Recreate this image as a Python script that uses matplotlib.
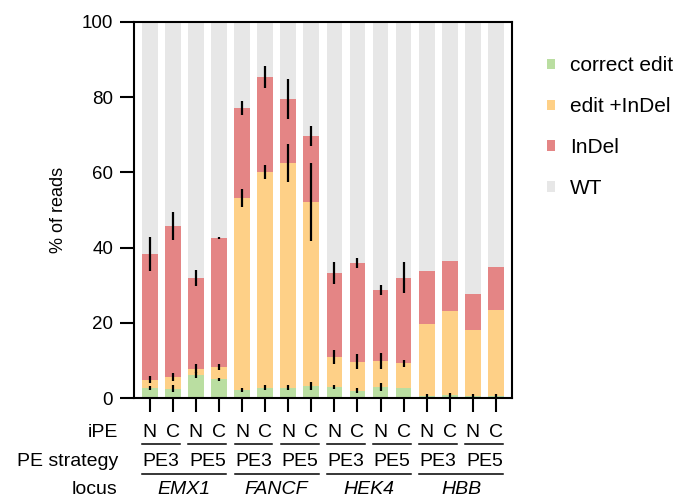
import numpy as np
import matplotlib.pyplot as plt
from matplotlib.patches import Patch
from matplotlib.transforms import blended_transform_factory

plt.rcParams['font.family'] = ['Liberation Sans', 'DejaVu Sans']

# one bar per locus / PE strategy / iPE combination
ipe = ['N', 'C'] * 8
strategy = ['PE3', 'PE5'] * 4
loci = ['EMX1', 'FANCF', 'HEK4', 'HBB']

# mean % of reads per outcome
correct_edit = [2.8, 2.5, 6.2, 5.1, 2.2, 2.8, 2.8, 3.3, 3.0, 2.0, 3.0, 2.8, 0.6, 0.8, 0.6, 0.6]
edit_indel = [2.1, 3.2, 1.6, 3.2, 51.0, 57.3, 59.7, 48.9, 8.0, 7.7, 6.9, 6.5, 19.2, 22.4, 17.6, 22.9]
indel = [33.4, 40.0, 24.1, 34.3, 23.9, 25.2, 17.0, 17.5, 22.3, 26.3, 18.9, 22.7, 14.0, 13.2, 9.6, 11.5]

# error bars (drawn at the top of each stacked segment)
correct_err = [0.5, 0.9, 0.8, 0.4, 0.5, 0.7, 0.7, 1.0, 0.5, 0.7, 1.0, 0.0, 0.5, 0.5, 0.5, 0.5]
edit_err = [0.9, 1.1, 1.2, 0.8, 2.3, 1.8, 5.0, 10.4, 1.9, 2.0, 2.2, 1.0, 0, 0, 0, 0]
indel_err = [4.6, 3.7, 2.2, 0.3, 1.8, 3.0, 5.4, 2.7, 3.0, 1.3, 1.3, 4.1, 0, 0, 0, 0]

colors = {'correct edit': '#badea1', 'edit +InDel': '#fed087',
          'InDel': '#e48585', 'WT': '#e7e7e7'}

c = np.array(correct_edit)
e = np.array(edit_indel)
d = np.array(indel)
wt = 100 - c - e - d
x = np.arange(len(c))
w = 0.68

fig = plt.figure(figsize=(6.75, 5.01), dpi=100)
ax = fig.add_axes([0.1985, 0.205, 0.5595, 0.7515])

ax.bar(x, c, w, color=colors['correct edit'])
ax.bar(x, e, w, bottom=c, color=colors['edit +InDel'])
ax.bar(x, d, w, bottom=c + e, color=colors['InDel'])
ax.bar(x, wt, w, bottom=c + e + d, color=colors['WT'])

for top, err in [(c, correct_err), (c + e, edit_err), (c + e + d, indel_err)]:
    ax.errorbar(x, top, yerr=err, fmt='none', ecolor='black', elinewidth=1.6, capsize=0)

ax.set_xlim(-0.68, 15.68)
ax.set_ylim(0, 100)
ax.set_yticks([0, 20, 40, 60, 80, 100])
ax.set_xticks(x)
ax.set_xticklabels([])
ax.tick_params(axis='both', direction='out', length=10, width=1.5, labelsize=13.5, pad=5)
for s in ax.spines.values():
    s.set_linewidth(1.5)
ax.set_ylabel('% of reads', fontsize=13, labelpad=11)

# category labels under the axis
tr = blended_transform_factory(ax.transData, fig.transFigure)
fs = 14
row_y = [0.1377, 0.0798, 0.022]
line_y = [0.1128, 0.0529]
ext = 0.32
for label, yy in zip(['iPE', 'PE strategy', 'locus'], row_y):
    ax.text(-1.38, yy, label, transform=tr, ha='right', va='center', fontsize=fs)
for i, lab in enumerate(ipe):
    ax.text(i, row_y[0], lab, transform=tr, ha='center', va='center', fontsize=fs)
for k, lab in enumerate(strategy):
    a, b = 2 * k, 2 * k + 1
    ax.text((a + b) / 2, row_y[1], lab, transform=tr, ha='center', va='center', fontsize=fs)
    ax.plot([a - ext, b + ext], [line_y[0]] * 2, transform=tr, color='black', lw=1.1, clip_on=False)
for k, lab in enumerate(loci):
    a, b = 4 * k, 4 * k + 3
    ax.text((a + b) / 2, row_y[2], lab, transform=tr, ha='center', va='center',
            fontsize=fs, style='italic')
    ax.plot([a - ext, b + ext], [line_y[1]] * 2, transform=tr, color='black', lw=1.1, clip_on=False)

handles = [Patch(facecolor=col, edgecolor='none') for col in colors.values()]
fig.legend(handles, list(colors.keys()), loc='upper left', bbox_to_anchor=(0.783, 0.925),
           frameon=False, fontsize=15, handlelength=0.38, handleheight=0.38,
           handletextpad=0.72, labelspacing=1.05)

fig.savefig('out.png', dpi=100)
